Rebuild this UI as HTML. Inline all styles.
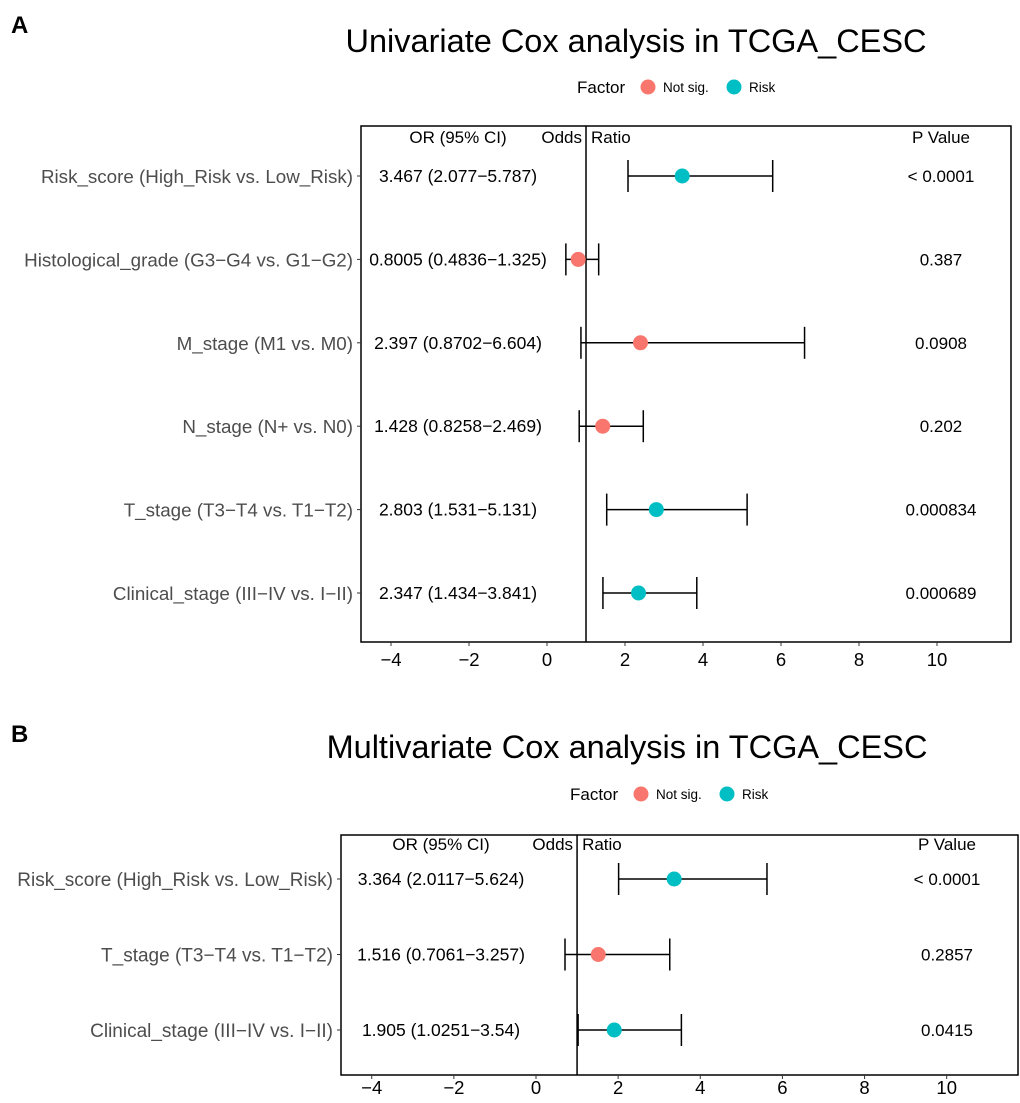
<!DOCTYPE html>
<html><head><meta charset="utf-8"><style>
body{margin:0;background:#fff;}
svg{font-family:"Liberation Sans",Arial,sans-serif;}
</style></head><body>
<svg id="chart" width="1020" height="1098"></svg>
<script>
const labelsA=["Risk_score (High_Risk vs. Low_Risk)","Histological_grade (G3\u2212G4 vs. G1\u2212G2)","M_stage (M1 vs. M0)","N_stage (N+ vs. N0)","T_stage (T3\u2212T4 vs. T1\u2212T2)","Clinical_stage (III\u2212IV vs. I\u2212II)"];
const orA=[3.467,0.8005,2.397,1.428,2.803,2.347];
const loA=[2.077,0.4836,0.8702,0.8258,1.531,1.434];
const hiA=[5.787,1.325,6.604,2.469,5.131,3.841];
const orTextA=["3.467 (2.077\u22125.787)","0.8005 (0.4836\u22121.325)","2.397 (0.8702\u22126.604)","1.428 (0.8258\u22122.469)","2.803 (1.531\u22125.131)","2.347 (1.434\u22123.841)"];
const pA=["< 0.0001","0.387","0.0908","0.202","0.000834","0.000689"];
const sigA=["Risk","Not sig.","Not sig.","Not sig.","Risk","Risk"];
const labelsB=["Risk_score (High_Risk vs. Low_Risk)","T_stage (T3\u2212T4 vs. T1\u2212T2)","Clinical_stage (III\u2212IV vs. I\u2212II)"];
const orB=[3.364,1.516,1.905];
const loB=[2.0117,0.7061,1.0251];
const hiB=[5.624,3.257,3.54];
const orTextB=["3.364 (2.0117\u22125.624)","1.516 (0.7061\u22123.257)","1.905 (1.0251\u22123.54)"];
const pB=["< 0.0001","0.2857","0.0415"];
const sigB=["Risk","Not sig.","Risk"];
const ticks=[-4,-2,0,2,4,6,8,10];

const NS="http://www.w3.org/2000/svg";
const svg=document.getElementById('chart');
function mk(tag,attrs,parent,text){const e=document.createElementNS(NS,tag);for(const k in attrs)e.setAttribute(k,attrs[k]);if(text!==undefined)e.textContent=text;(parent||svg).appendChild(e);return e;}
const colors={"Not sig.":"#F8766D","Risk":"#00BFC4"};

function panel(cfg){
  const g=mk('g',{});
  
  
  const x=v=>cfg.x0+v*cfg.ppu;
  const n=cfg.labels.length;
  const y=i=>cfg.rowTop+i*cfg.rowStep;
  let t=mk('text',{x:11,y:cfg.letterY,'font-size':24,'font-weight':'bold'},g,cfg.letter);
  
  t=mk('text',{x:cfg.titleX,y:cfg.titleY,'font-size':32.5,'text-anchor':'middle'},g,cfg.title);
  
  const lg=mk('g',{},g);
  
  mk('text',{x:cfg.legX,y:cfg.legY+6,'font-size':17},lg,'Factor');
  mk('circle',{cx:cfg.legX+71,cy:cfg.legY,r:7.5,fill:colors["Not sig."]},lg);
  mk('text',{x:cfg.legX+86,y:cfg.legY+5,'font-size':13.5},lg,'Not sig.');
  mk('circle',{cx:cfg.legX+157,cy:cfg.legY,r:7.5,fill:colors["Risk"]},lg);
  mk('text',{x:cfg.legX+172,y:cfg.legY+5,'font-size':13.5},lg,'Risk');
  const box=mk('rect',{x:cfg.bx,y:cfg.by,width:cfg.bw,height:cfg.bh,fill:'none',stroke:'#000','stroke-width':1.5},g);
  
  mk('text',{x:cfg.orX,y:cfg.hdrY,'font-size':17,'text-anchor':'middle'},g,'OR (95% CI)');
  mk('text',{x:x(1)-4,y:cfg.hdrY,'font-size':17,'text-anchor':'end'},g,'Odds');
  mk('text',{x:x(1)+5,y:cfg.hdrY,'font-size':17},g,'Ratio');
  mk('text',{x:cfg.pX,y:cfg.hdrY,'font-size':17,'text-anchor':'middle'},g,'P Value');
  const rl=mk('line',{x1:x(1),x2:x(1),y1:cfg.by,y2:cfg.by+cfg.bh,stroke:'#000','stroke-width':1.5},g);
  
  for(let i=0;i<n;i++){
    const yy=y(i);
    const lab=mk('text',{x:cfg.bx-8,y:yy+7,'font-size':cfg.labFs,'text-anchor':'end',fill:'#4d4d4d'},g,cfg.labels[i]);
    
    mk('line',{x1:cfg.bx-4,x2:cfg.bx,y1:yy,y2:yy,stroke:'#333','stroke-width':1},g);
    const ot=mk('text',{x:cfg.orX,y:yy+6,'font-size':17.5,'text-anchor':'middle'},g,cfg.orText[i]);
    
    const pt=mk('text',{x:cfg.pX,y:yy+6,'font-size':17,'text-anchor':'middle'},g,cfg.p[i]);
    
    const eg=mk('g',{stroke:'#000','stroke-width':1.5},g);
    
    mk('line',{x1:x(cfg.lo[i]),x2:x(cfg.hi[i]),y1:yy,y2:yy},eg);
    mk('line',{x1:x(cfg.lo[i]),x2:x(cfg.lo[i]),y1:yy-16,y2:yy+16},eg);
    mk('line',{x1:x(cfg.hi[i]),x2:x(cfg.hi[i]),y1:yy-16,y2:yy+16},eg);
    const c=mk('circle',{cx:x(cfg.or[i]),cy:yy,r:7.5,fill:colors[cfg.sig[i]]},g);
    
  }
  const ax=mk('g',{},g);
  
  const yb=cfg.by+cfg.bh;
  ticks.forEach(v=>{
    mk('line',{x1:x(v),x2:x(v),y1:yb,y2:yb+4,stroke:'#333','stroke-width':1},ax);
    mk('text',{x:x(v),y:yb+cfg.tickOff,'font-size':18.5,'text-anchor':'middle'},ax,v<0?'\u2212'+(-v):String(v));
  });
}
panel({name:'panel-a-univariate',letter:'A',letterY:33,title:'Univariate Cox analysis in TCGA_CESC',titleX:636,titleY:52,
  legX:577,legY:87,bx:361,by:126,bw:650,bh:516,x0:547,ppu:39,rowTop:176,rowStep:83.4,hdrY:143,orX:458,pX:941,labFs:18.8,tickOff:24,
  labels:labelsA,or:orA,lo:loA,hi:hiA,orText:orTextA,p:pA,sig:sigA});
panel({name:'panel-b-multivariate',letter:'B',letterY:742,title:'Multivariate Cox analysis in TCGA_CESC',titleX:627,titleY:758,
  legX:570,legY:794,bx:341,by:835,bw:677,bh:240,x0:536,ppu:41.07,rowTop:879,rowStep:75.5,hdrY:850,orX:441,pX:947,labFs:19,tickOff:19,
  labels:labelsB,or:orB,lo:loB,hi:hiB,orText:orTextB,p:pB,sig:sigB});
</script>
</body></html>
